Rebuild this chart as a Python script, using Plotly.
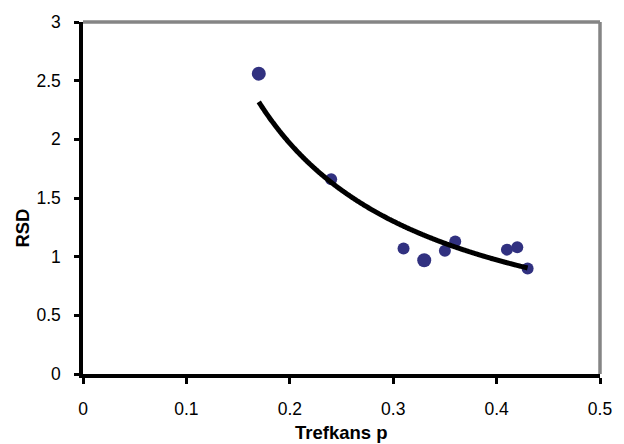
import numpy as np
import plotly.graph_objects as go

# Data
p_values = [0.17, 0.24, 0.31, 0.33, 0.35, 0.36, 0.41, 0.42, 0.43]
rsd_values = [2.56, 1.66, 1.07, 0.97, 1.05, 1.13, 1.06, 1.08, 0.90]
marker_sizes = [14, 12, 12, 14, 12, 12, 12, 12, 12]

x_ticks = [0, 0.1, 0.2, 0.3, 0.4, 0.5]
y_ticks = [0, 0.5, 1, 1.5, 2, 2.5, 3]

# Power trendline (Excel-style): fit ln(y) = ln(a) + b ln(x)
b, ln_a = np.polyfit(np.log(p_values), np.log(rsd_values), 1)
a = np.exp(ln_a)
trend_x = np.linspace(min(p_values), max(p_values), 300)
trend_y = a * trend_x ** b

FONT = "Liberation Sans, Arial, sans-serif"
TICK_SIZE = 17.5
TITLE_SIZE = 18.5

fig = go.Figure()
fig.add_trace(go.Scatter(
    x=p_values, y=rsd_values, mode="markers",
    marker=dict(color="#313180", size=marker_sizes, opacity=1, line=dict(width=0)),
    showlegend=False, hoverinfo="skip"))
fig.add_trace(go.Scatter(
    x=trend_x, y=trend_y, mode="lines",
    line=dict(color="black", width=5, shape="spline"),
    showlegend=False, hoverinfo="skip"))

fig.update_layout(
    width=624, height=444,
    margin=dict(l=83, r=17, t=22, b=70),
    paper_bgcolor="white", plot_bgcolor="white",
    font=dict(family=FONT, size=TICK_SIZE, color="black"),
    xaxis=dict(range=[0, 0.5], tickvals=x_ticks, ticktext=[str(v) for v in x_ticks],
               showgrid=False, zeroline=False,
               showline=True, linecolor="black", linewidth=3.5,
               ticks="outside", ticklen=6, tickwidth=3, tickcolor="black",
               ticklabelstandoff=10, tickfont=dict(size=TICK_SIZE)),
    yaxis=dict(range=[0, 3], tickvals=y_ticks, ticktext=[str(v) for v in y_ticks],
               showgrid=False, zeroline=False,
               showline=True, linecolor="black", linewidth=3.5,
               ticks="outside", ticklen=5, tickwidth=3, tickcolor="black",
               ticklabelstandoff=10, tickfont=dict(size=TICK_SIZE)),
    shapes=[
        dict(type="line", xref="paper", yref="paper", x0=0, x1=1, y0=1, y1=1,
             line=dict(color="#858585", width=3.5)),
        dict(type="line", xref="paper", yref="paper", x0=1, x1=1, y0=0, y1=1,
             line=dict(color="#858585", width=3.5)),
    ],
    annotations=[
        dict(text="<b>Trefkans p</b>", xref="paper", yref="paper",
             x=0.5, y=-0.1666, xanchor="center", yanchor="middle",
             showarrow=False, font=dict(family=FONT, size=TITLE_SIZE)),
        dict(text="<b>RSD</b>", xref="paper", yref="paper",
             x=-0.1174, y=0.414, xanchor="center", yanchor="middle",
             textangle=-90, showarrow=False, font=dict(family=FONT, size=TITLE_SIZE)),
    ],
)

fig.write_html("out.html")
